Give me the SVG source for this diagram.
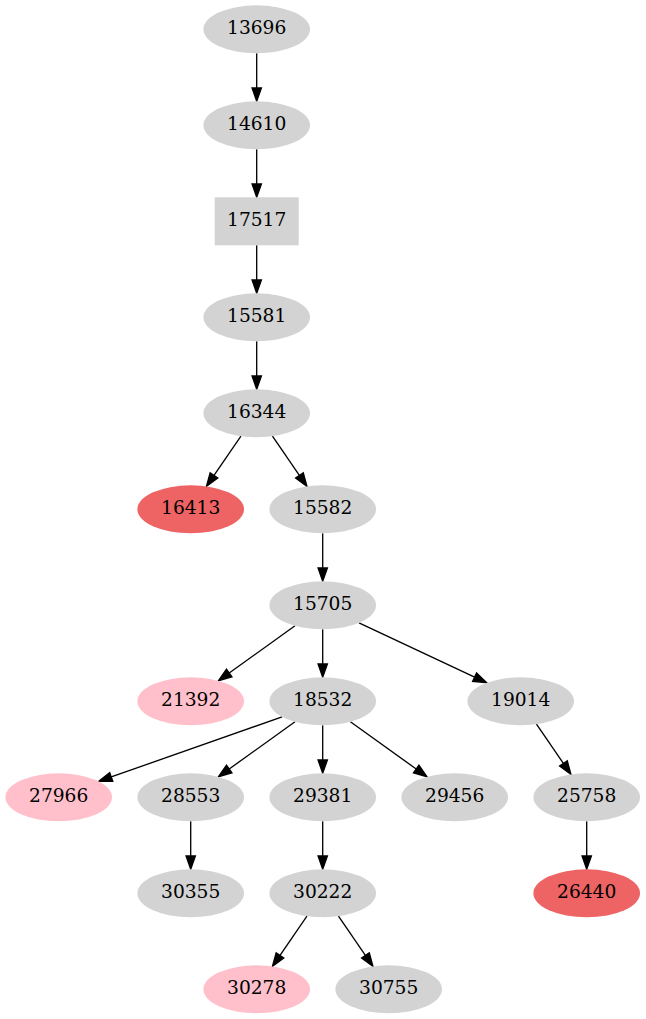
<svg xmlns="http://www.w3.org/2000/svg" width="646" height="1019" viewBox="0 0 646 1019">
<style>
.n ellipse, .n rect { fill: #d3d3d3; stroke: none; }
.n.pink ellipse { fill: #ffc0cb; }
.n.red ellipse { fill: #ee6363; }
.n text { font-family: "DejaVu Serif", serif; font-size: 18.67px; text-anchor: middle; fill: #000; }
#edges line { stroke: #000; stroke-width: 1.33; fill: none; marker-end: url(#arr); }
</style>
<defs>
<marker id="arr" markerUnits="userSpaceOnUse" markerWidth="14" markerHeight="10" refX="0" refY="4.67" orient="auto" overflow="visible">
<path d="M0,0 L13.3,4.67 L0,9.33 z" fill="#000" stroke="#000" stroke-width="1.33"/>
</marker>
</defs>
<rect width="646" height="1019" fill="#fff"/>
<g id="edges">
<line x1="256.7" y1="53.3" x2="256.7" y2="88"/>
<line x1="256.7" y1="149.3" x2="256.7" y2="184"/>
<line x1="256.7" y1="245.3" x2="256.7" y2="280"/>
<line x1="256.7" y1="341.3" x2="256.7" y2="376"/>
<line x1="240.94" y1="436.22" x2="213.99" y2="475.42"/>
<line x1="272.46" y1="436.22" x2="299.41" y2="475.42"/>
<line x1="322.7" y1="533.3" x2="322.7" y2="568"/>
<line x1="295.0" y1="625.8" x2="229.2" y2="673.0"/>
<line x1="322.7" y1="629.3" x2="322.7" y2="664"/>
<line x1="359.0" y1="622.9" x2="474.6" y2="677.1"/>
<line x1="282.1" y1="716.9" x2="111.25" y2="776.9"/>
<line x1="295.0" y1="721.8" x2="229.2" y2="769.0"/>
<line x1="322.7" y1="725.3" x2="322.7" y2="760"/>
<line x1="350.4" y1="721.8" x2="416.2" y2="769.0"/>
<line x1="536.46" y1="724.22" x2="563.41" y2="763.42"/>
<line x1="190.7" y1="821.3" x2="190.7" y2="856"/>
<line x1="322.7" y1="821.3" x2="322.7" y2="856"/>
<line x1="586.7" y1="821.3" x2="586.7" y2="856"/>
<line x1="306.94" y1="916.22" x2="279.99" y2="955.42"/>
<line x1="338.46" y1="916.22" x2="365.41" y2="955.42"/>
</g>
<g id="n13696" class="n"><ellipse cx="256.7" cy="29.3" rx="53.3" ry="24"/><text x="256.7" y="34.3">13696</text></g>
<g id="n14610" class="n"><ellipse cx="256.7" cy="125.3" rx="53.3" ry="24"/><text x="256.7" y="130.3">14610</text></g>
<g id="n17517" class="n"><rect x="214.7" y="197.3" width="84" height="48"/><text x="256.7" y="226.3">17517</text></g>
<g id="n15581" class="n"><ellipse cx="256.7" cy="317.3" rx="53.3" ry="24"/><text x="256.7" y="322.3">15581</text></g>
<g id="n16344" class="n"><ellipse cx="256.7" cy="413.3" rx="53.3" ry="24"/><text x="256.7" y="418.3">16344</text></g>
<g id="n16413" class="n red"><ellipse cx="190.7" cy="509.3" rx="53.3" ry="24"/><text x="190.7" y="514.3">16413</text></g>
<g id="n15582" class="n"><ellipse cx="322.7" cy="509.3" rx="53.3" ry="24"/><text x="322.7" y="514.3">15582</text></g>
<g id="n15705" class="n"><ellipse cx="322.7" cy="605.3" rx="53.3" ry="24"/><text x="322.7" y="610.3">15705</text></g>
<g id="n21392" class="n pink"><ellipse cx="190.7" cy="701.3" rx="53.3" ry="24"/><text x="190.7" y="706.3">21392</text></g>
<g id="n18532" class="n"><ellipse cx="322.7" cy="701.3" rx="53.3" ry="24"/><text x="322.7" y="706.3">18532</text></g>
<g id="n19014" class="n"><ellipse cx="520.7" cy="701.3" rx="53.3" ry="24"/><text x="520.7" y="706.3">19014</text></g>
<g id="n27966" class="n pink"><ellipse cx="58.7" cy="797.3" rx="53.3" ry="24"/><text x="58.7" y="802.3">27966</text></g>
<g id="n28553" class="n"><ellipse cx="190.7" cy="797.3" rx="53.3" ry="24"/><text x="190.7" y="802.3">28553</text></g>
<g id="n29381" class="n"><ellipse cx="322.7" cy="797.3" rx="53.3" ry="24"/><text x="322.7" y="802.3">29381</text></g>
<g id="n29456" class="n"><ellipse cx="454.7" cy="797.3" rx="53.3" ry="24"/><text x="454.7" y="802.3">29456</text></g>
<g id="n25758" class="n"><ellipse cx="586.7" cy="797.3" rx="53.3" ry="24"/><text x="586.7" y="802.3">25758</text></g>
<g id="n30355" class="n"><ellipse cx="190.7" cy="893.3" rx="53.3" ry="24"/><text x="190.7" y="898.3">30355</text></g>
<g id="n30222" class="n"><ellipse cx="322.7" cy="893.3" rx="53.3" ry="24"/><text x="322.7" y="898.3">30222</text></g>
<g id="n26440" class="n red"><ellipse cx="586.7" cy="893.3" rx="53.3" ry="24"/><text x="586.7" y="898.3">26440</text></g>
<g id="n30278" class="n pink"><ellipse cx="256.7" cy="989.3" rx="53.3" ry="24"/><text x="256.7" y="994.3">30278</text></g>
<g id="n30755" class="n"><ellipse cx="388.7" cy="989.3" rx="53.3" ry="24"/><text x="388.7" y="994.3">30755</text></g>
</svg>
